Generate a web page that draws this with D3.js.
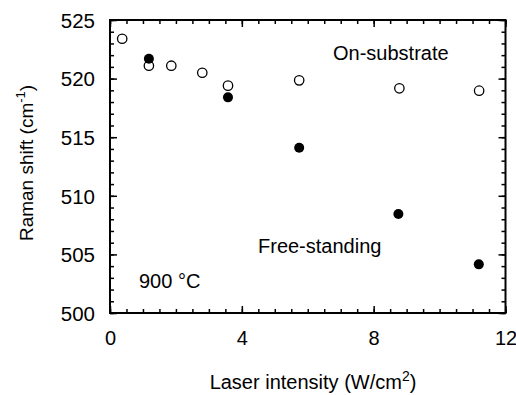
<!DOCTYPE html>
<html><head><meta charset="utf-8">
<script src="https://cdn.jsdelivr.net/npm/d3@7"></script>
<style>body{margin:0;background:#fff}svg{display:block}text{font-family:"Liberation Sans",Arial,Helvetica,sans-serif;fill:#000}</style>
</head><body><div id="chart"></div>
<script>
const onX = [0.37, 1.18, 1.86, 2.8, 3.58, 5.74, 8.78, 11.2];
const onY = [523.4, 521.1, 521.1, 520.5, 519.4, 519.85, 519.17, 518.97];
const freeX = [1.18, 3.58, 5.74, 8.75, 11.19];
const freeY = [521.7, 518.4, 514.1, 508.45, 504.15];
const xTicks = [0, 4, 8, 12];
const yTicks = [500, 505, 510, 515, 520, 525];

const W = 516, H = 395;
const svg = d3.select("#chart").append("svg").attr("width", W).attr("height", H);
const x = d3.scaleLinear().domain([0, 12]).range([110, 505.5]);
const y = d3.scaleLinear().domain([500, 525]).range([313, 20]);

const g = svg.append("g");
const xMinor = d3.range(0, 12.01, 0.5);
const yMinor = d3.range(500, 525.01, 1);

function addTicks(axisGen, tf, vals, len) {
  const a = g.append("g").attr("transform", tf).call(axisGen.tickValues(vals).tickSize(len).tickFormat(""));
  a.select(".domain").remove();
  a.selectAll("line").attr("stroke", "#000").attr("stroke-width", 1.5);
}
addTicks(d3.axisTop(x), `translate(0,313)`, xMinor, 4);
addTicks(d3.axisTop(x), `translate(0,313)`, xTicks, 7);
addTicks(d3.axisBottom(x), `translate(0,20)`, xMinor, 4);
addTicks(d3.axisBottom(x), `translate(0,20)`, xTicks, 7);
addTicks(d3.axisRight(y), `translate(110,0)`, yMinor, 4);
addTicks(d3.axisRight(y), `translate(110,0)`, yTicks, 7);
addTicks(d3.axisLeft(y), `translate(505.5,0)`, yMinor, 4);
addTicks(d3.axisLeft(y), `translate(505.5,0)`, yTicks, 7);

g.append("rect").attr("x", 110).attr("y", 20).attr("width", 395.5).attr("height", 293)
  .attr("fill", "none").attr("stroke", "#000").attr("stroke-width", 2);

const FF = '"Liberation Sans",Arial,sans-serif';
const xl = svg.append("g").attr("transform", "translate(0,313)")
  .call(d3.axisBottom(x).tickValues(xTicks).tickSize(0).tickPadding(0).tickFormat(d3.format("d")));
xl.select(".domain").remove();
xl.selectAll("text").attr("font-size", 20).attr("dy", null).attr("y", 32).style("font-family", FF);
const yl = svg.append("g").attr("transform", "translate(110,0)")
  .call(d3.axisLeft(y).tickValues(yTicks).tickSize(0).tickPadding(15).tickFormat(d3.format("d")));
yl.select(".domain").remove();
yl.selectAll("text").attr("font-size", 20.5).attr("dy", "0.36em").style("font-family", FF);

const onData = onX.map((d, i) => ({x: d, y: onY[i]}));
const freeData = freeX.map((d, i) => ({x: d, y: freeY[i]}));
svg.append("g").selectAll("circle").data(onData).join("circle")
  .attr("cx", d => x(d.x)).attr("cy", d => y(d.y)).attr("r", 4.7)
  .attr("fill", "#fff").attr("stroke", "#000").attr("stroke-width", 1.3);
svg.append("g").selectAll("circle").data(freeData).join("circle")
  .attr("cx", d => x(d.x)).attr("cy", d => y(d.y)).attr("r", 5)
  .attr("fill", "#000");

svg.append("text").attr("x", 333).attr("y", 60).attr("font-size", 20).text("On-substrate");
svg.append("text").attr("x", 258).attr("y", 253).attr("font-size", 20).text("Free-standing");
svg.append("text").attr("x", 139).attr("y", 288).attr("font-size", 20).text("900 °C");

const xt = svg.append("text").attr("x", 313).attr("y", 389).attr("text-anchor", "middle").attr("font-size", 20);
xt.append("tspan").text("Laser intensity (W/cm");
xt.append("tspan").attr("dy", -8).attr("font-size", 14).text("2");
xt.append("tspan").attr("dy", 8).text(")");
const yt = svg.append("text").attr("transform", "translate(33,163) rotate(-90)").attr("text-anchor", "middle").attr("font-size", 19);
yt.append("tspan").text("Raman shift (cm");
yt.append("tspan").attr("dy", -8).attr("font-size", 13).text("-1");
yt.append("tspan").attr("dy", 8).text(")");
</script></body></html>
